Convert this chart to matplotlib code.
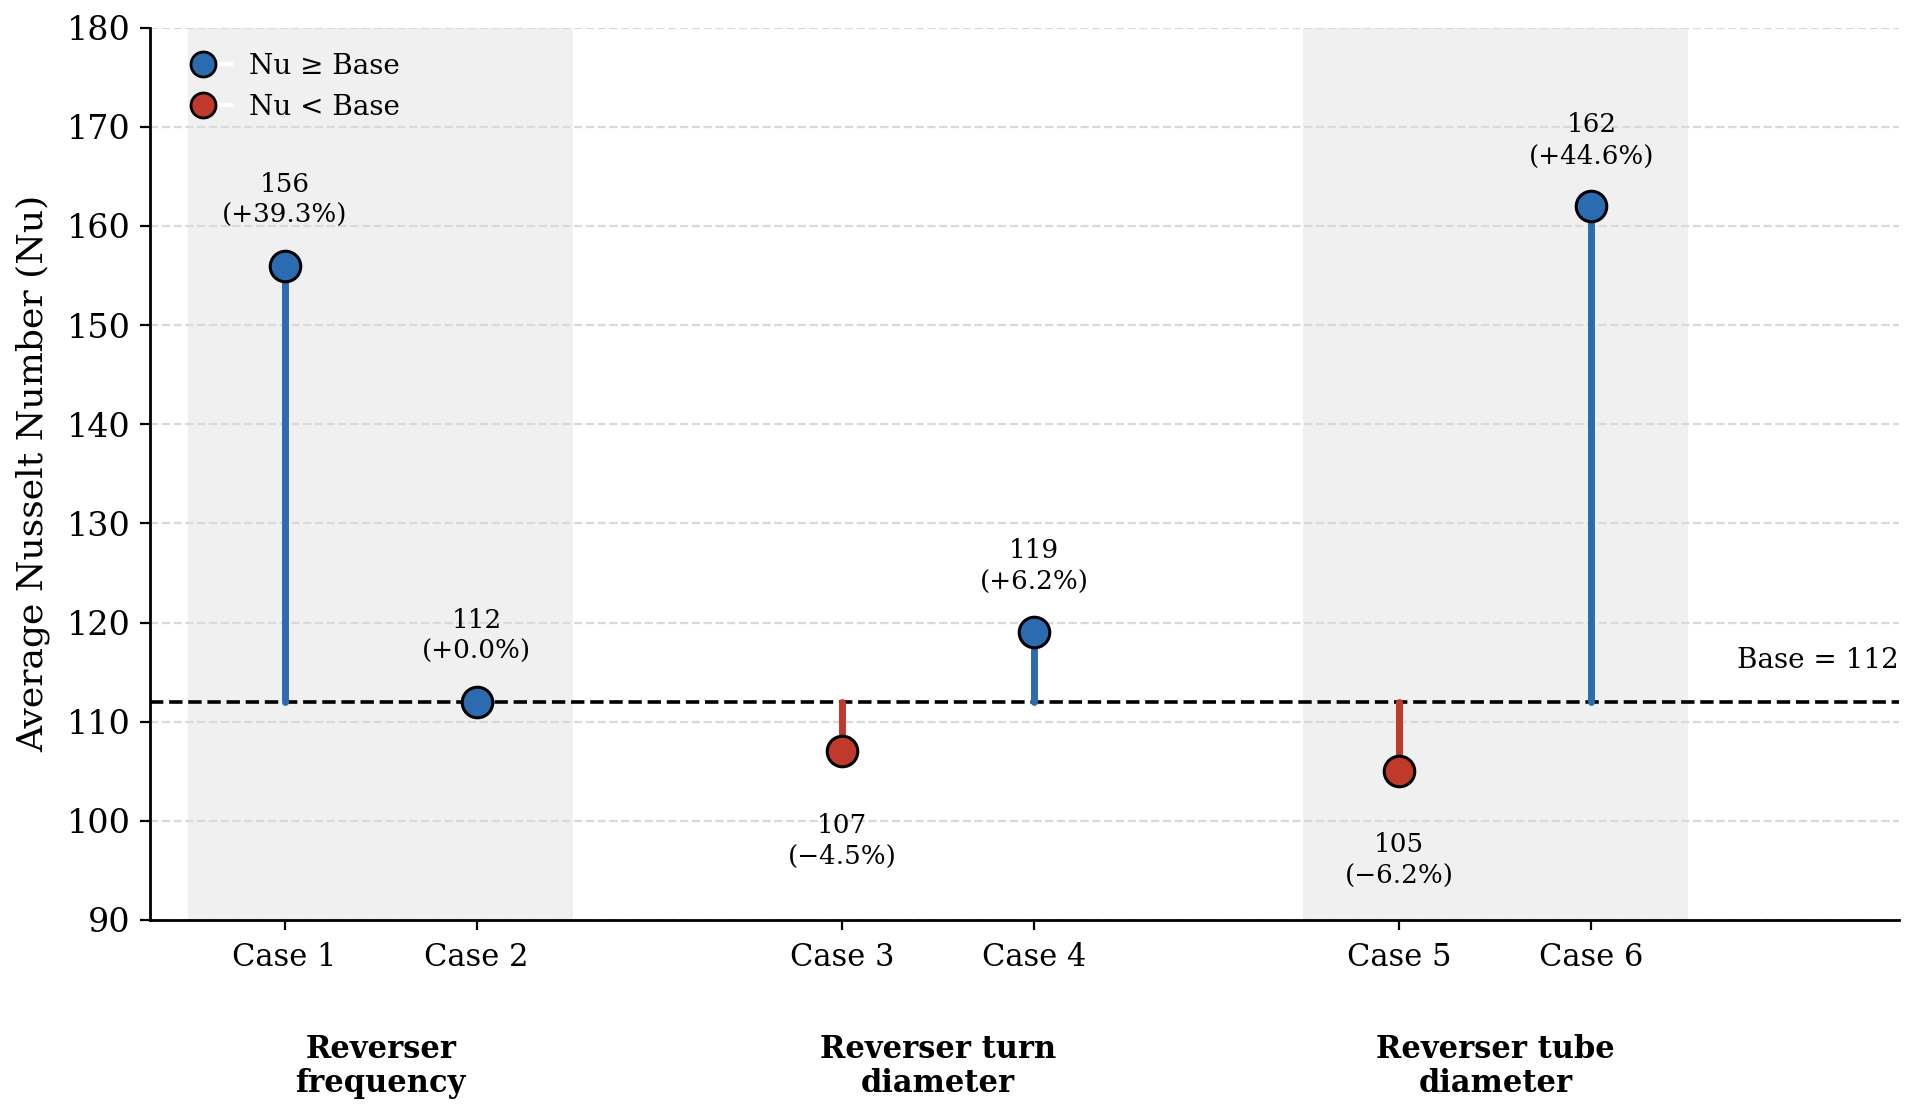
import matplotlib

matplotlib.use("Agg")
import matplotlib.pyplot as plt
import matplotlib.transforms as mtransforms
from matplotlib.lines import Line2D

# valeurs
BASE_NU = 112
CASES = ["Case 1", "Case 2", "Case 3", "Case 4", "Case 5", "Case 6"]
NU_VALUES = [156, 112, 107, 119, 105, 162]
GROUPS = ["Reverser\nfrequency", "Reverser turn\ndiameter", "Reverser tube\ndiameter"]
CASES_PER_GROUP = 2
SHADED_GROUPS = [0, 2]

BLUE = "#2b6cb0"
RED = "#c0392b"
GROUP_GAP = 0.9

plt.rcParams["font.family"] = ["DejaVu Serif"]

W, H, DPI = 1917, 1111, 200
fig = plt.figure(figsize=(W / DPI, H / DPI), dpi=DPI)
ax = fig.add_axes([150 / W, 1 - 920 / H, (1899 - 150) / W, (920 - 27.7) / H])

xs = [i + (i // CASES_PER_GROUP) * GROUP_GAP for i in range(len(CASES))]

for g in SHADED_GROUPS:
    x0 = xs[g * CASES_PER_GROUP]
    x1 = xs[g * CASES_PER_GROUP + CASES_PER_GROUP - 1]
    ax.axvspan(x0 - 0.5, x1 + 0.5, color="#f0f0f0", zorder=0, lw=0)

ax.yaxis.grid(True, linestyle="--", color="#d9d9d9", linewidth=0.8)
ax.set_axisbelow(True)

ax.axhline(BASE_NU, color="black", linestyle="--", linewidth=1.3, zorder=2)

for x, v in zip(xs, NU_VALUES):
    c = BLUE if v >= BASE_NU else RED
    ax.plot([x, x], [BASE_NU, v], color=c, linewidth=2.5, solid_capstyle="round", zorder=3)
    ax.plot(x, v, "o", markersize=11, markerfacecolor=c, markeredgecolor="black",
            markeredgewidth=1.1, zorder=4)
    pct = (v - BASE_NU) / BASE_NU * 100
    sign = "+" if pct >= 0 else "\u2212"
    label = f"{v}\n({sign}{abs(pct):.1f}%)"
    if v >= BASE_NU:
        ax.annotate(label, (x, v), xytext=(0, 13.5), textcoords="offset points",
                    ha="center", va="bottom", fontsize=9.4, linespacing=1.33)
    else:
        ax.annotate(label, (x, v), xytext=(0, -22), textcoords="offset points",
                    ha="center", va="top", fontsize=9.4, linespacing=1.33)

trans = mtransforms.blended_transform_factory(ax.transAxes, ax.transData)
ax.annotate(f"Base = {BASE_NU}", (1.0, BASE_NU), xycoords=trans, xytext=(0, 15),
            textcoords="offset points", ha="right", va="center", fontsize=10)

ax.set_xlim(-0.7, 8.4)
ax.set_ylim(90, 180)
ax.set_yticks(range(90, 181, 10))
ax.set_xticks(xs)
ax.set_xticklabels(CASES)
ax.tick_params(axis="x", labelsize=11, pad=4.5)
ax.tick_params(axis="y", labelsize=12)
ax.set_ylabel("Average Nusselt Number (Nu)", fontsize=13, labelpad=6)

for side in ["top", "right"]:
    ax.spines[side].set_visible(False)
for side in ["left", "bottom"]:
    ax.spines[side].set_linewidth(1.0)

gtrans = mtransforms.blended_transform_factory(ax.transData, ax.transAxes)
for g, name in enumerate(GROUPS):
    x0 = xs[g * CASES_PER_GROUP]
    x1 = xs[g * CASES_PER_GROUP + CASES_PER_GROUP - 1]
    ax.text((x0 + x1) / 2, -0.164, name, transform=gtrans, ha="center", va="center",
            fontsize=11, fontweight="bold", linespacing=1.1)

handles = [
    Line2D([0], [0], marker="o", color="w", markerfacecolor=BLUE, markeredgecolor="black",
           markersize=9, label="Nu \u2265 Base"),
    Line2D([0], [0], marker="o", color="w", markerfacecolor=RED, markeredgecolor="black",
           markersize=9, label="Nu < Base"),
]
ax.legend(handles=handles, loc="upper left", frameon=False, fontsize=10, handletextpad=0.65)

fig.savefig("out.png", dpi=DPI)
